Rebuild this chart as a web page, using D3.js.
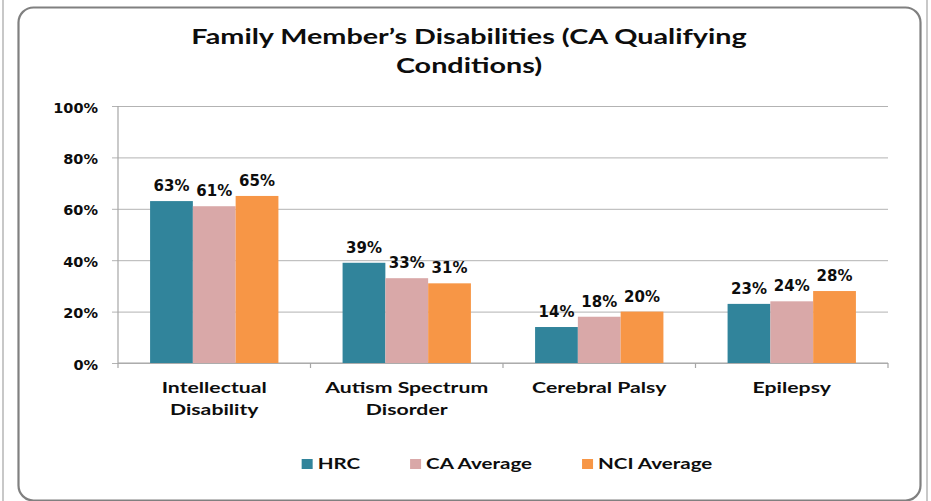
<!DOCTYPE html>
<html>
<head>
<meta charset="utf-8">
<script src="https://cdn.jsdelivr.net/npm/d3@7"></script>
<style>
  html, body { margin: 0; padding: 0; background: #fff; }
  svg { display: block; }
</style>
</head>
<body>
<svg id="chart" width="931" height="501"></svg>
<script>
// values
var categories = ["Intellectual\nDisability", "Autism Spectrum\nDisorder", "Cerebral Palsy", "Epilepsy"];
var seriesNames = ["HRC", "CA Average", "NCI Average"];
var hrc = [63, 39, 14, 23];
var caAverage = [61, 33, 18, 24];
var nciAverage = [65, 31, 20, 28];
var yTicks = [0, 20, 40, 60, 80, 100];
var titleLines = ["Family Member\u2019s Disabilities (CA Qualifying", "Conditions)"];

var colors = ["#31849B", "#D9A8A8", "#F79646"];
var seriesValues = [hrc, caAverage, nciAverage];

var svg = d3.select("#chart"),
  margin = { top: 106, right: 43, bottom: 138, left: 118 },
  width = +svg.attr("width") - margin.left - margin.right,
  height = +svg.attr("height") - margin.top - margin.bottom;

// the source picture is stretched sideways, so text is too
var stretch = 1.37;
var labelFont = "Lato, 'Open Sans', sans-serif";
var numFont = "'DejaVu Sans', Verdana, sans-serif";

function place(sel, x, y) {
  return sel.attr("transform", "translate(" + x + "," + y + ") scale(" + stretch + ",1)");
}

// outer page lines and rounded chart frame
svg.selectAll("line.edge")
  .data([3, 927])
  .enter()
  .append("line")
  .attr("class", "edge")
  .attr("x1", function(d) { return d; })
  .attr("x2", function(d) { return d; })
  .attr("y1", 0)
  .attr("y2", 501)
  .attr("stroke", "#c8c8c8")
  .attr("stroke-width", 2);

svg.append("rect")
  .attr("x", 18.5)
  .attr("y", 7.5)
  .attr("width", 902)
  .attr("height", 493)
  .attr("rx", 15)
  .attr("fill", "#fff")
  .attr("stroke", "#808080")
  .attr("stroke-width", 2.2);

// title
svg.selectAll("text.title")
  .data(titleLines)
  .enter()
  .append("text")
  .attr("class", "title")
  .attr("text-anchor", "middle")
  .attr("font-family", labelFont)
  .attr("font-weight", "bold")
  .attr("font-size", "21px")
  .attr("fill", "#0d0d0d")
  .text(function(d) { return d; })
  .each(function(d, i) { place(d3.select(this), 469, 44 + i * 29); });

var x0 = d3.scaleBand()
  .domain(categories)
  .range([0, width])
  .paddingInner(1 / 3)
  .paddingOuter(1 / 6);

var x1 = d3.scaleBand()
  .domain(seriesNames)
  .range([0, x0.bandwidth()]);

var y = d3.scaleLinear().domain([0, 100]).range([height, 0]);

var g = svg.append("g")
  .attr("transform", "translate(" + margin.left + "," + margin.top + ")");

// gridlines with the y axis
var yAxis = d3.axisLeft(y)
  .tickValues(yTicks)
  .tickSize(-width - 6)
  .tickFormat(function(d) { return d + "%"; });

var yg = g.append("g")
  .attr("transform", "translate(-6,0)")
  .call(yAxis);
yg.select(".domain").remove();
yg.selectAll(".tick line").attr("stroke", "#b3b3b3").attr("stroke-width", 1);
yg.selectAll(".tick text")
  .attr("x", -14)
  .attr("dy", "0.42em")
  .attr("font-family", numFont)
  .attr("font-weight", "bold")
  .attr("font-size", "14.5px")
  .attr("fill", "#0d0d0d");

g.append("line")
  .attr("x1", 0).attr("x2", 0)
  .attr("y1", 0).attr("y2", height)
  .attr("stroke", "#a6a6a6")
  .attr("stroke-width", 1.2);

// x axis line and ticks between categories
var boundaries = d3.range(categories.length + 1).map(function(i) {
  return i * x0.step();
});
g.append("line")
  .attr("x1", 0).attr("x2", width)
  .attr("y1", height).attr("y2", height)
  .attr("stroke", "#a6a6a6")
  .attr("stroke-width", 1.2);
g.selectAll("line.xtick")
  .data(boundaries)
  .enter()
  .append("line")
  .attr("class", "xtick")
  .attr("x1", function(d) { return d; })
  .attr("x2", function(d) { return d; })
  .attr("y1", height)
  .attr("y2", height + 5)
  .attr("stroke", "#a6a6a6")
  .attr("stroke-width", 1.2);

// bars
var rows = categories.map(function(c, i) {
  return seriesNames.map(function(s, j) {
    return { cat: c, series: s, value: seriesValues[j][i], color: colors[j] };
  });
});

var groups = g.selectAll("g.group")
  .data(rows)
  .enter()
  .append("g")
  .attr("class", "group")
  .attr("transform", function(d) { return "translate(" + x0(d[0].cat) + ",0)"; });

groups.selectAll("rect")
  .data(function(d) { return d; })
  .enter()
  .append("rect")
  .attr("x", function(d) { return x1(d.series); })
  .attr("y", function(d) { return y(d.value); })
  .attr("width", x1.bandwidth())
  .attr("height", function(d) { return height - y(d.value); })
  .attr("fill", function(d) { return d.color; });

groups.selectAll("text.value")
  .data(function(d) { return d; })
  .enter()
  .append("text")
  .attr("class", "value")
  .attr("x", function(d) { return x1(d.series) + x1.bandwidth() / 2; })
  .attr("y", function(d) { return y(d.value) - 10; })
  .attr("text-anchor", "middle")
  .attr("font-family", numFont)
  .attr("font-weight", "bold")
  .attr("font-size", "15px")
  .attr("fill", "#0d0d0d")
  .text(function(d) { return d.value + "%"; });

// category labels
var catLabels = g.selectAll("g.cat")
  .data(categories)
  .enter()
  .append("g")
  .attr("class", "cat");

catLabels.each(function(c) {
  var lines = c.split("\n");
  var cx = x0(c) + x0.bandwidth() / 2;
  var sel = d3.select(this);
  lines.forEach(function(line, i) {
    place(sel.append("text"), cx, height + 30 + i * 22)
      .attr("text-anchor", "middle")
      .attr("font-family", labelFont)
      .attr("font-weight", "bold")
      .attr("font-size", "15.5px")
      .attr("fill", "#0d0d0d")
      .text(line);
  });
});

// legend
var legend = svg.append("g");
var legendGap = 50;
var lx = 0;
seriesNames.forEach(function(name, i) {
  var item = legend.append("g").attr("transform", "translate(" + lx + ",0)");
  item.append("rect")
    .attr("x", 0)
    .attr("y", -10)
    .attr("width", 11)
    .attr("height", 10)
    .attr("fill", colors[i]);
  var t = place(item.append("text"), 16, 0)
    .attr("font-family", labelFont)
    .attr("font-weight", "bold")
    .attr("font-size", "15px")
    .attr("fill", "#0d0d0d")
    .text(name);
  lx += 16 + t.node().getComputedTextLength() * stretch + legendGap;
});
var legendWidth = lx - legendGap;
legend.attr("transform", "translate(" + (507 - legendWidth / 2) + ",469)");
</script>
</body>
</html>
